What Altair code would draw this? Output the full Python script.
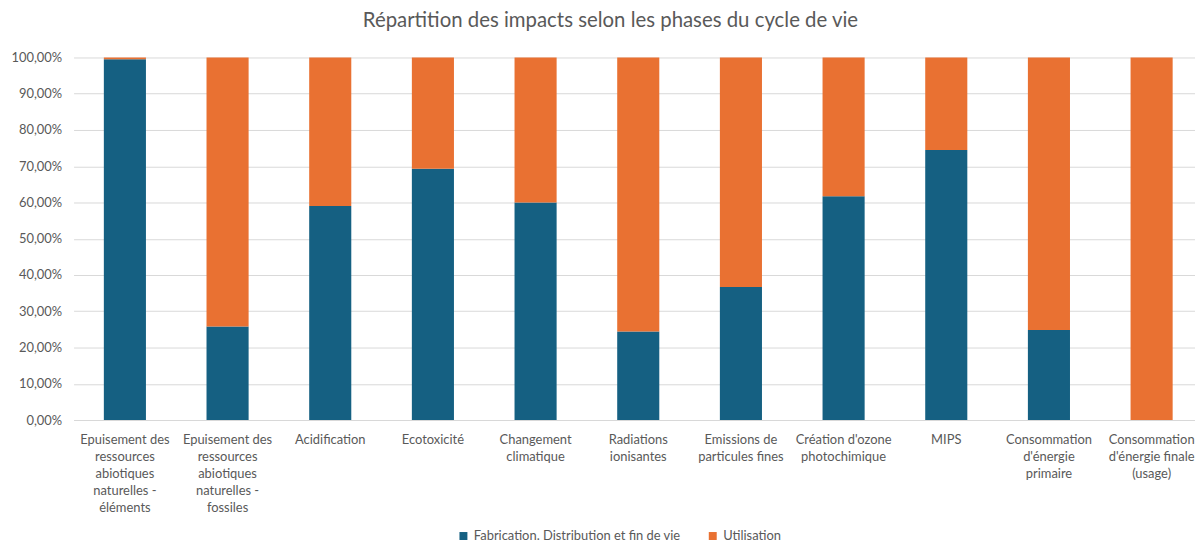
import altair as alt
import pandas as pd

categories = [
    "Epuisement des|ressources|abiotiques|naturelles -|éléments",
    "Epuisement des|ressources|abiotiques|naturelles -|fossiles",
    "Acidification",
    "Ecotoxicité",
    "Changement|climatique",
    "Radiations|ionisantes",
    "Emissions de|particules fines",
    "Création d'ozone|photochimique",
    "MIPS",
    "Consommation|d'énergie|primaire",
    "Consommation|d'énergie finale|(usage)",
]
fabrication = [0.995, 0.258, 0.590, 0.693, 0.600, 0.244, 0.367, 0.617, 0.745, 0.248, 0.0]
utilisation = [0.005, 0.742, 0.410, 0.307, 0.400, 0.756, 0.633, 0.383, 0.255, 0.752, 1.0]
series = ["Fabrication. Distribution et fin de vie", "Utilisation"]
colors = ["#156082", "#E97132"]
y_ticks = [0, 0.1, 0.2, 0.3, 0.4, 0.5, 0.6, 0.7, 0.8, 0.9, 1.0]

rows = []
for c, f, u in zip(categories, fabrication, utilisation):
    rows.append({"cat": c, "serie": series[0], "val": f, "ord": 0})
    rows.append({"cat": c, "serie": series[1], "val": u, "ord": 1})
df = pd.DataFrame(rows)

FONT = "Lato"
GREY = "#595959"

chart = alt.Chart(df).mark_bar(width=alt.RelativeBandSize(0.41)).encode(
    x=alt.X("cat:N", sort=categories, title=None,
            scale=alt.Scale(range=[0, 1137], paddingInner=0, paddingOuter=0),
            axis=alt.Axis(labelAngle=0, ticks=False, domainColor="#D9D9D9",
                          labelExpr="split(datum.value, '|')",
                          labelFont=FONT, labelFontSize=13, labelColor=GREY,
                          labelBaseline="top", labelPadding=14, labelLineHeight=17,
                          labelLimit=200)),
    y=alt.Y("val:Q", stack="zero", title=None,
            scale=alt.Scale(domain=[0, 1], nice=False),
            axis=alt.Axis(values=y_ticks, ticks=False, domain=False,
                          labelExpr="replace(format(datum.value, '.2%'), '.', ',')",
                          labelFont=FONT, labelFontSize=13, labelColor=GREY,
                          labelPadding=12, gridColor="#D9D9D9")),
    color=alt.Color("serie:N", sort=series,
                    scale=alt.Scale(domain=series, range=colors),
                    legend=alt.Legend(title=None, orient="none", direction="horizontal",
                                      legendX=386, legendY=475, symbolType="square",
                                      symbolSize=64, symbolStrokeWidth=0,
                                      labelFont=FONT, labelFontSize=13, labelColor=GREY,
                                      labelOffset=4, columnPadding=25, labelLimit=400)),
    order=alt.Order("ord:Q", sort="ascending"),
).properties(
    width=1129,
    height=365,
    autosize=alt.AutoSizeParams(type="none"),
    padding={"left": 66, "top": 48, "right": 0, "bottom": 124},
    title=alt.TitleParams("Répartition des impacts selon les phases du cycle de vie",
                          font=FONT, fontSize=20.5, fontWeight="normal", color=GREY,
                          anchor="middle", dx=-24, dy=24, offset=28, baseline="alphabetic"),
).configure_view(stroke=None)

chart.save("out.html", embed_options={"renderer": "svg", "actions": False})
